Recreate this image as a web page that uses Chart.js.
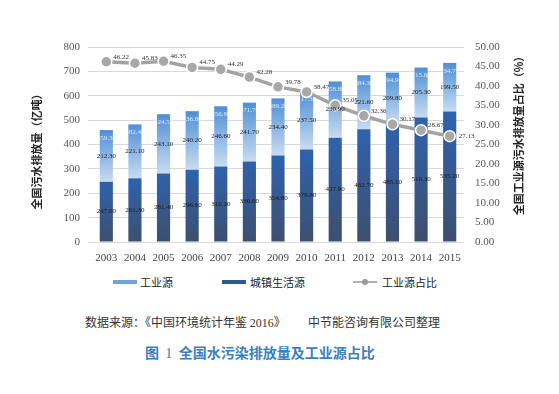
<!DOCTYPE html>
<html>
<head>
<meta charset="utf-8">
<script src="https://cdn.jsdelivr.net/npm/chart.js@4.4.1/dist/chart.umd.min.js"></script>
<style>
body{margin:0;background:#fff;width:559px;height:394px;overflow:hidden;font-family:"Noto Sans CJK SC",sans-serif;}
#wrap{position:absolute;left:0;top:0;width:559px;height:268px;}
.abs{position:absolute;white-space:nowrap;}
.lg{font-size:11px;color:#222;line-height:14px;}
.sw{position:absolute;height:4px;width:24px;}
</style>
</head>
<body>
<div id="wrap"><canvas id="myChart" width="559" height="268"></canvas></div>

<div class="sw" style="left:113px;top:280px;background:#6fa3dc;"></div>
<div class="abs lg" style="left:140px;top:275px;">工业源</div>
<div class="sw" style="left:222px;top:280px;background:#2f5597;"></div>
<div class="abs lg" style="left:250px;top:275px;">城镇生活源</div>
<div class="sw" style="left:353px;top:281px;height:2px;background:#b0b0b0;"></div>
<div class="abs" style="left:362px;top:279px;width:6px;height:6px;border-radius:3px;background:#9a9a9a;"></div>
<div class="abs lg" style="left:382px;top:275px;">工业源占比</div>

<div class="abs" style="left:85px;top:313px;font-size:12px;color:#333;">数据来源：《中国环境统计年鉴 <span style="font-family:'Liberation Serif';">2016</span>》</div>
<div class="abs" style="left:308px;top:313px;font-size:12px;color:#333;">中节能咨询有限公司整理</div>
<div class="abs" style="left:145px;top:342px;font-size:14px;font-weight:bold;color:#3c7fc0;">图&nbsp;&nbsp;<span style="font-family:'Liberation Serif';font-weight:normal;">1</span>&nbsp;&nbsp;全国水污染排放量及工业源占比</div>

<script>
// 数据（亿吨 / %）
var years = ["2003","2004","2005","2006","2007","2008","2009","2010","2011","2012","2013","2014","2015"];
var industrial = [212.30, 221.10, 243.10, 240.20, 246.60, 241.70, 234.40, 237.50, 230.90, 221.60, 209.80, 205.30, 199.50];
var domestic = [247.00, 261.30, 281.40, 296.60, 310.20, 330.00, 354.80, 379.80, 427.90, 462.70, 485.10, 510.30, 535.20];
var share = [46.22, 45.83, 46.35, 44.75, 44.29, 42.28, 39.78, 38.47, 35.05, 32.36, 30.17, 28.67, 27.13];

function barGrad(c, top, bottom, colTop, colBottom){
    var chart = c.chart;
    if (!chart.chartArea || c.type !== 'data') return colTop;
    var y = chart.scales.y;
    var g = chart.ctx.createLinearGradient(0, y.getPixelForValue(top), 0, y.getPixelForValue(bottom));
    g.addColorStop(0, colTop);
    g.addColorStop(1, colBottom);
    return g;
}

var labelPlugin = {
    id: 'labels',
    afterDatasetsDraw: function(chart){
        var ctx = chart.ctx;
        var mD = chart.getDatasetMeta(0), mI = chart.getDatasetMeta(1), mL = chart.getDatasetMeta(2);
        ctx.save();
        ctx.font = '7px "Liberation Serif"';
        ctx.textAlign = 'center';
        ctx.textBaseline = 'middle';
        mD.data.forEach(function(b, i){
            ctx.fillStyle = '#1a1a1a';
            ctx.fillText(domestic[i].toFixed(2), b.x, (b.y + b.base) / 2);
        });
        mI.data.forEach(function(b, i){
            ctx.fillStyle = '#1a1a1a';
            ctx.fillText(industrial[i].toFixed(2), b.x, (b.y + b.base) / 2);
            ctx.fillStyle = 'rgba(255,255,255,0.8)';
            ctx.fillText((industrial[i] + domestic[i]).toFixed(2), b.x, b.y + 8);
        });
        ctx.textAlign = 'left';
        mL.data.forEach(function(p, i){
            ctx.fillStyle = '#333';
            if (i == share.length - 1) ctx.fillText(share[i].toFixed(2), p.x + 9, p.y);
            else ctx.fillText(share[i].toFixed(2), p.x + 7, p.y - 5);
        });
        ctx.restore();
    },
    afterDraw: function(chart){
        var ctx = chart.ctx;
        ctx.save();
        ctx.fillStyle = '#222';
        ctx.font = 'bold 11px "Noto Sans CJK SC"';
        ctx.textAlign = 'center';
        ctx.textBaseline = 'middle';
        ctx.translate(37, 149);
        ctx.rotate(-Math.PI / 2);
        ctx.fillText('全国污水排放量（亿吨）', 0, 0);
        ctx.restore();
        ctx.save();
        ctx.fillStyle = '#222';
        ctx.font = 'bold 11px "Noto Sans CJK SC"';
        ctx.textAlign = 'center';
        ctx.textBaseline = 'middle';
        ctx.translate(519, 133);
        ctx.rotate(-Math.PI / 2);
        ctx.fillText('全国工业源污水排放量占比（%）', 0, 0);
        ctx.restore();
    }
};

var tickFont = {family: '"Liberation Serif"', size: 11};

var ctx = document.getElementById("myChart");
var myChart = new Chart(ctx, {
    type: 'bar',
    data: {
        labels: years,
        datasets: [{
            label: '城镇生活源',
            data: domestic,
            order: 1,
            stack: 's',
            backgroundColor: function(c){
                return barGrad(c, domestic[c.dataIndex], 0, '#2f62ad', '#3d4f6e');
            }
        }, {
            label: '工业源',
            data: industrial,
            order: 1,
            stack: 's',
            backgroundColor: function(c){
                var i = c.dataIndex;
                return barGrad(c, domestic[i] + industrial[i], domestic[i], '#4f8fd6', '#c8dcf1');
            }
        }, {
            type: 'line',
            label: '工业源占比',
            data: share,
            yAxisID: 'y1',
            order: 0,
            borderColor: '#a3a3a3',
            borderWidth: 3.5,
            pointRadius: 5.5,
            pointBackgroundColor: '#a8a8a8',
            pointBorderColor: '#ffffff',
            pointBorderWidth: 1.5,
            tension: 0
        }]
    },
    options: {
        responsive: false,
        animation: false,
        events: [],
        layout: {padding: {top: 47, bottom: 0, left: 0, right: 0}},
        datasets: {bar: {barPercentage: 0.46, categoryPercentage: 1}},
        plugins: {legend: {display: false}, tooltip: {enabled: false}},
        scales: {
            x: {
                stacked: true,
                grid: {display: false, drawTicks: false},
                border: {display: false},
                ticks: {font: tickFont, color: '#444', padding: 10, maxRotation: 0},
                afterFit: function(s){ s.height = 26; }
            },
            y: {
                stacked: true,
                min: 0, max: 800,
                ticks: {stepSize: 100, font: tickFont, color: '#555', padding: 8},
                grid: {color: '#d9d9d9', tickLength: 4},
                border: {display: false},
                afterFit: function(s){ s.width = 92; }
            },
            y1: {
                position: 'right',
                min: 0, max: 50,
                ticks: {stepSize: 5, font: tickFont, color: '#555', padding: 11,
                    callback: function(v){ return v.toFixed(2); }},
                grid: {display: false, drawTicks: false},
                border: {display: false},
                afterFit: function(s){ s.width = 95; }
            }
        }
    },
    plugins: [labelPlugin]
});
</script>
</body>
</html>
